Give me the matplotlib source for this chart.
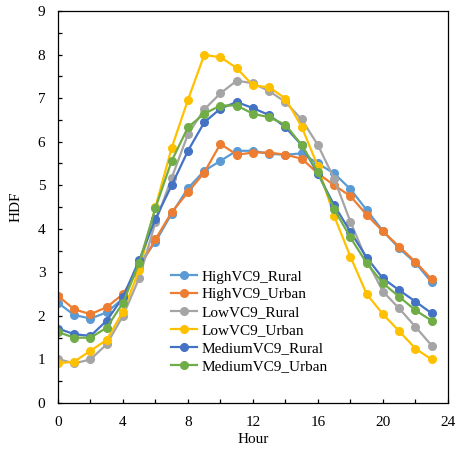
import numpy as np
import matplotlib.pyplot as plt
from matplotlib.ticker import MultipleLocator

plt.rcParams['font.family'] = ['Liberation Serif', 'DejaVu Serif']

# --- Dados ---
hours = list(range(24))
high_rural = [2.30, 2.02, 1.94, 2.08, 2.40, 3.20, 3.70, 4.35, 4.93, 5.33, 5.56, 5.79,
              5.79, 5.72, 5.70, 5.73, 5.50, 5.27, 4.91, 4.43, 3.95, 3.55, 3.22, 2.77]
high_urban = [2.46, 2.15, 2.04, 2.20, 2.50, 3.10, 3.76, 4.38, 4.84, 5.29, 5.95, 5.70,
              5.75, 5.75, 5.70, 5.61, 5.27, 5.00, 4.75, 4.32, 3.94, 3.59, 3.24, 2.84]
low_rural = [1.01, 0.91, 1.00, 1.35, 2.00, 2.87, 4.15, 5.17, 6.17, 6.74, 7.11, 7.40,
             7.34, 7.16, 6.91, 6.51, 5.92, 5.15, 4.16, 3.28, 2.56, 2.17, 1.75, 1.32]
low_urban = [0.91, 0.95, 1.20, 1.45, 2.10, 3.05, 4.50, 5.86, 6.96, 7.99, 7.94, 7.69,
             7.29, 7.25, 6.99, 6.34, 5.43, 4.29, 3.36, 2.50, 2.04, 1.65, 1.25, 1.00]
med_rural = [1.71, 1.58, 1.54, 1.89, 2.43, 3.28, 4.23, 5.00, 5.79, 6.44, 6.76, 6.91,
             6.77, 6.61, 6.33, 5.92, 5.26, 4.54, 3.93, 3.34, 2.86, 2.59, 2.33, 2.06]
med_urban = [1.63, 1.50, 1.50, 1.73, 2.30, 3.22, 4.48, 5.56, 6.33, 6.64, 6.83, 6.83,
             6.64, 6.56, 6.39, 5.92, 5.30, 4.45, 3.80, 3.21, 2.75, 2.44, 2.13, 1.89]

series = [
    ("HighVC9_Rural", high_rural, "#5B9BD5"),
    ("HighVC9_Urban", high_urban, "#ED7D31"),
    ("LowVC9_Rural", low_rural, "#A5A5A5"),
    ("LowVC9_Urban", low_urban, "#FFC000"),
    ("MediumVC9_Rural", med_rural, "#4472C4"),
    ("MediumVC9_Urban", med_urban, "#70AD47"),
]

# --- Plotagem ---
fig = plt.figure(figsize=(4.58, 4.54), dpi=100)
ax = fig.add_axes([0.1266, 0.1123, 0.8514, 0.8635])

for label, vals, color in series:
    ax.plot(hours, vals, color=color, lw=1.6, marker="o", ms=5.5, label=label)

ax.set_xlim(0, 24)
ax.set_ylim(0, 9)
ax.xaxis.set_major_locator(MultipleLocator(4))
ax.xaxis.set_minor_locator(MultipleLocator(2))
ax.yaxis.set_major_locator(MultipleLocator(1))
ax.yaxis.set_minor_locator(MultipleLocator(0.5))
ax.tick_params(which="both", direction="in", length=3, width=0.9, labelsize=11)
ax.tick_params(axis="x", which="both", pad=9)
ax.tick_params(axis="y", which="both", pad=9)
for s in ax.spines.values():
    s.set_linewidth(0.9)

ax.set_xlabel("Hour", fontsize=11, labelpad=3)
ax.set_ylabel("HDF", fontsize=11, labelpad=11)

ax.legend(loc="lower left", bbox_to_anchor=(0.275, 0.06), frameon=False,
          fontsize=11, handlelength=1.7, handletextpad=0.3, labelspacing=0.28,
          borderaxespad=0)

plt.savefig("out.png", dpi=100)
plt.close()
